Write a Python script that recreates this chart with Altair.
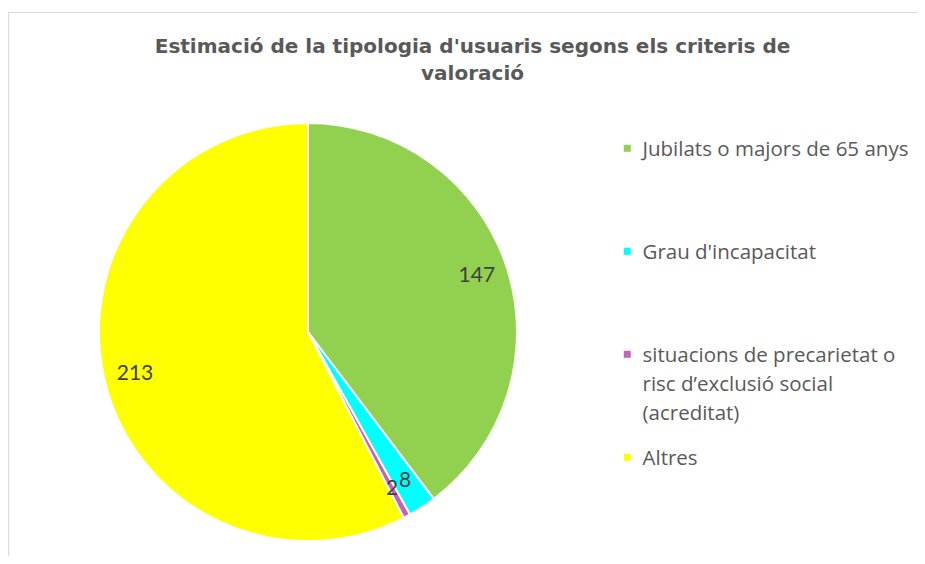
import json
import altair as alt
import pandas as pd

# ---- data ----
categories = [
    "Jubilats o majors de 65 anys",
    "Grau d'incapacitat",
    "situacions de precarietat o risc d’exclusió social (acreditat)",
    "Altres",
]
values = [147, 8, 2, 213]
colors = ["#92D050", "#00FFFF", "#C462B8", "#FFFF00"]
# legend label wrapping as shown in the reference
legend_lines = [
    ["Jubilats o majors de 65 anys"],
    ["Grau d'incapacitat"],
    ["situacions de precarietat o", "risc d’exclusió social", "(acreditat)"],
    ["Altres"],
]
title_lines = ["Estimació de la tipologia d'usuaris segons els criteris de", "valoració"]

df = pd.DataFrame({"cat": categories, "value": values, "idx": list(range(len(values)))})

# Build legend label expression (pad entries so spacing mimics the Excel legend)
max_lines = max(len(l) for l in legend_lines)
expr = json.dumps(legend_lines[-1], ensure_ascii=False)
for cat, lines in reversed(list(zip(categories[:-1], legend_lines[:-1]))):
    padded = lines + [" "] * (max_lines - len(lines))
    expr = f"datum.label == {json.dumps(cat, ensure_ascii=False)} ? {json.dumps(padded, ensure_ascii=False)} : ({expr})"

LEGEND_FONT = "Open Sans"
LABEL_FONT = "Lato"
CX, CY = 300, 320

base = alt.Chart(df).encode(
    theta=alt.Theta("value:Q", stack=True),
    order=alt.Order("idx:Q"),
    x=alt.value(CX),
    y=alt.value(CY),
)

arcs = base.mark_arc(radius=209, stroke="white", strokeWidth=2).encode(
    color=alt.Color(
        "cat:N",
        scale=alt.Scale(domain=categories, range=colors),
        sort=categories,
        legend=alt.Legend(
            title=None,
            orient="none",
            legendX=609,
            legendY=118,
            padding=0,
            labelExpr=expr,
            labelFont=LEGEND_FONT,
            labelFontSize=20.5,
            labelColor="#595959",
            labelBaseline="top",
            labelLimit=500,
            labelOffset=5,
            rowPadding=14,
            symbolType="M-1,1.3H1V3.3H-1Z",
            symbolSize=49,
            symbolStrokeWidth=0,
        ),
    )
)

labels = base.mark_text(radius=178, font=LABEL_FONT, fontSize=21, color="#404040").encode(
    text=alt.Text("value:Q")
)

chart = (
    alt.layer(arcs, labels)
    .properties(
        width=925,
        height=560,
        padding={"left": 0, "top": 4, "right": -16, "bottom": -16},
        autosize=alt.AutoSizeParams(type="none"),
        title=alt.TitleParams(
            text=title_lines,
            font="DejaVu Sans",
            fontSize=20,
            fontWeight="bold",
            color="#595959",
            anchor="middle",
            frame="group",
            lineHeight=27,
            offset=-72,
            dx=2,
        ),
    )
    .configure(style={"guide-label": {"lineHeight": 29}})
    .configure_view(stroke="#D9D9D9", strokeWidth=1)
)

chart.save("out.html", embed_options={"renderer": "svg", "actions": False})
